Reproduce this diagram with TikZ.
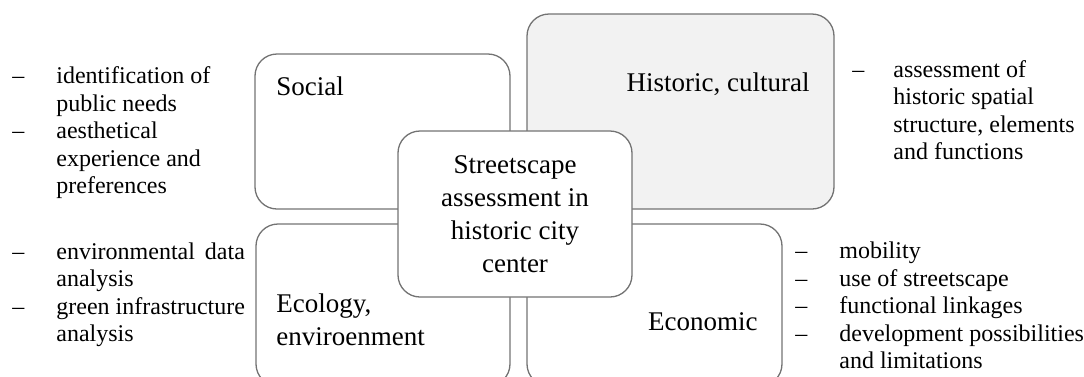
\documentclass[tikz,border=0pt]{standalone}
\usepackage{fontspec}
\setmainfont{Liberation Serif}
\usepackage{array}

\newlength\listwd

\begin{document}
\begin{tikzpicture}[x=0.5pt, y=-0.5pt, % one unit is one pixel of the figure
    box/.style={draw=black!55, line width=0.65pt, rounded corners=11pt, inner sep=0pt, outer sep=0pt},
    boxtext/.style={font=\fontsize{13.5}{16.5}\selectfont, inner sep=0pt},
    listtext/.style={font=\fontsize{12}{13.75}\selectfont, inner sep=0pt, anchor=west}]

  \useasboundingbox (0,0) rectangle (1084,376);
  \clip (0,0) rectangle (1084,376);

  % Four aspect boxes
  \node [box, minimum width=127.5pt, minimum height=77.5pt] (social) at (382.5,131.5) {};
  \node [box, fill=black!5, minimum width=153.5pt, minimum height=97.5pt] (historic) at (680.5,111.5) {};
  \node [box, minimum width=127pt, minimum height=81pt] (ecology) at (383,305) {};
  \node [box, minimum width=127.5pt, minimum height=81pt] (economic) at (654.5,305) {};

  % Box titles
  \node [boxtext, anchor=west] (sociallbl) at (276,86) {Social};
  \node [boxtext, anchor=east] (historiclbl) at (810,84) {Historic, cultural};
  \node [boxtext, anchor=west, align=left] (ecologylbl) at (276,320) {Ecology,\\enviroenment};
  \node [boxtext, anchor=east] (economiclbl) at (758,322) {Economic};

  % Central box (drawn last, on top)
  \node [box, fill=white, boxtext, align=center, minimum width=117pt, minimum height=83pt]
    (center) at (515,214) {Streetscape\\assessment in\\historic city\\center};

  % Lists of methods
  \node [listtext] (sociallist) at (12,133) {\begin{tabular}{@{}p{22pt}@{}l@{}}
    -- & identification of\\
       & public needs\\
    -- & aesthetical\\
       & experience and\\
       & preferences
  \end{tabular}};
  \node [listtext] (ecologylist) at (12,295) {\begin{tabular}{@{}p{22pt}@{}l@{}}
    -- & \settowidth\listwd{green infrastructure}\makebox[\listwd][s]{environmental data}\\
       & analysis\\
    -- & green infrastructure\\
       & analysis
  \end{tabular}};
  \node [listtext] (historiclist) at (852,113) {\begin{tabular}{@{}p{20.5pt}@{}l@{}}
    -- & assessment of\\
       & historic spatial\\
       & structure, elements\\
       & and functions
  \end{tabular}};
  \node [listtext] (economiclist) at (795,308) {\begin{tabular}{@{}p{22pt}@{}l@{}}
    -- & mobility\\
    -- & use of streetscape\\
    -- & functional linkages\\
    -- & development possibilities\\
       & and limitations
  \end{tabular}};
\end{tikzpicture}
\end{document}
